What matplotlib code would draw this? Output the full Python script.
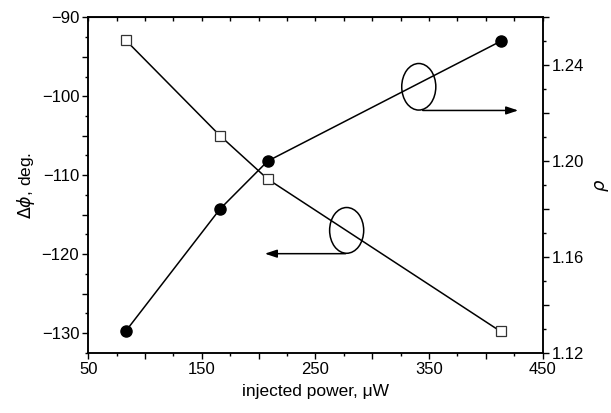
import matplotlib
matplotlib.use("Agg")
import matplotlib.pyplot as plt
from matplotlib.ticker import MultipleLocator, FuncFormatter
from matplotlib.patches import Ellipse

plt.rcParams['font.family'] = ['Liberation Sans', 'DejaVu Sans']
plt.rcParams['font.size'] = 12
plt.rcParams['axes.unicode_minus'] = True

# Data
power = [83, 166, 208, 413]                 # injected power, uW
dphi = [-92.9, -105.0, -110.5, -129.8]      # delta phi, deg (open squares, left axis)
rho = [1.129, 1.180, 1.200, 1.250]          # rho (filled circles, right axis)

fig = plt.figure(figsize=(6.11, 4.13), dpi=100)
ax = fig.add_axes([0.1445, 0.146, 0.7435, 0.812])
ax2 = ax.twinx()

ax.plot(power, dphi, color='black', lw=1.1, marker='s', ms=7.5, mfc='white',
        mec='#333333', mew=0.9, zorder=3)
ax2.plot(power, rho, color='black', lw=1.1, marker='o', ms=8, mfc='black',
         mec='black', zorder=3)

ax.set_xlim(50, 450)
ax.set_ylim(-132.5, -90)
ax2.set_ylim(1.12, 1.26)

ax.xaxis.set_major_locator(MultipleLocator(50))
ax.xaxis.set_minor_locator(MultipleLocator(25))
ax.xaxis.set_major_formatter(FuncFormatter(
    lambda v, p: f"{int(round(v))}" if round(v - 50) % 100 == 0 else ""))
ax.yaxis.set_major_locator(MultipleLocator(5))
ax.yaxis.set_minor_locator(MultipleLocator(2.5))
ax.yaxis.set_major_formatter(FuncFormatter(
    lambda v, p: f"{int(round(v))}".replace('-', '\u2212') if round(v) % 10 == 0 else ""))
ax2.yaxis.set_major_locator(MultipleLocator(0.02))
ax2.yaxis.set_minor_locator(MultipleLocator(0.01))
ax2.yaxis.set_major_formatter(FuncFormatter(
    lambda v, p: f"{v:.2f}" if abs(round((v - 1.12) / 0.04) - (v - 1.12) / 0.04) < 1e-6 else ""))

for a in (ax, ax2):
    a.tick_params(which='major', direction='out', length=4.5, width=1.0, labelsize=12, pad=2)
    a.tick_params(which='minor', direction='out', length=2.5, width=1.0)
    for s in a.spines.values():
        s.set_linewidth(1.1)

sec = ax.secondary_xaxis('top')
sec.xaxis.set_major_locator(MultipleLocator(50))
sec.xaxis.set_minor_locator(MultipleLocator(25))
sec.tick_params(which='both', direction='in', length=3, width=1.0, labeltop=False)

ax.set_xlabel('injected power, \u03bcW', fontsize=12.5, labelpad=5)
ax.set_ylabel(r'$\Delta\phi$, deg.', fontsize=12.5, labelpad=3)
ax2.set_ylabel(r'$\rho$', fontsize=13)
ax2.yaxis.set_label_coords(1.112, 0.5)

# Annotations: ellipses with arrows
ax.add_patch(Ellipse((277.5, -117.0), 30, 5.8, fill=False, ec='black', lw=1.1, zorder=4))
ax.annotate('', xy=(203, -119.95), xytext=(279, -119.95),
            arrowprops=dict(arrowstyle='-|>,head_length=0.6,head_width=0.2',
                            color='black', lw=1.1, mutation_scale=12))
ax.add_patch(Ellipse((341, -98.8), 30, 5.9, fill=False, ec='black', lw=1.1, zorder=4))
ax.annotate('', xy=(431, -101.8), xytext=(342, -101.8),
            arrowprops=dict(arrowstyle='-|>,head_length=0.6,head_width=0.2',
                            color='black', lw=1.1, mutation_scale=12))

fig.savefig('out.png', dpi=100)
